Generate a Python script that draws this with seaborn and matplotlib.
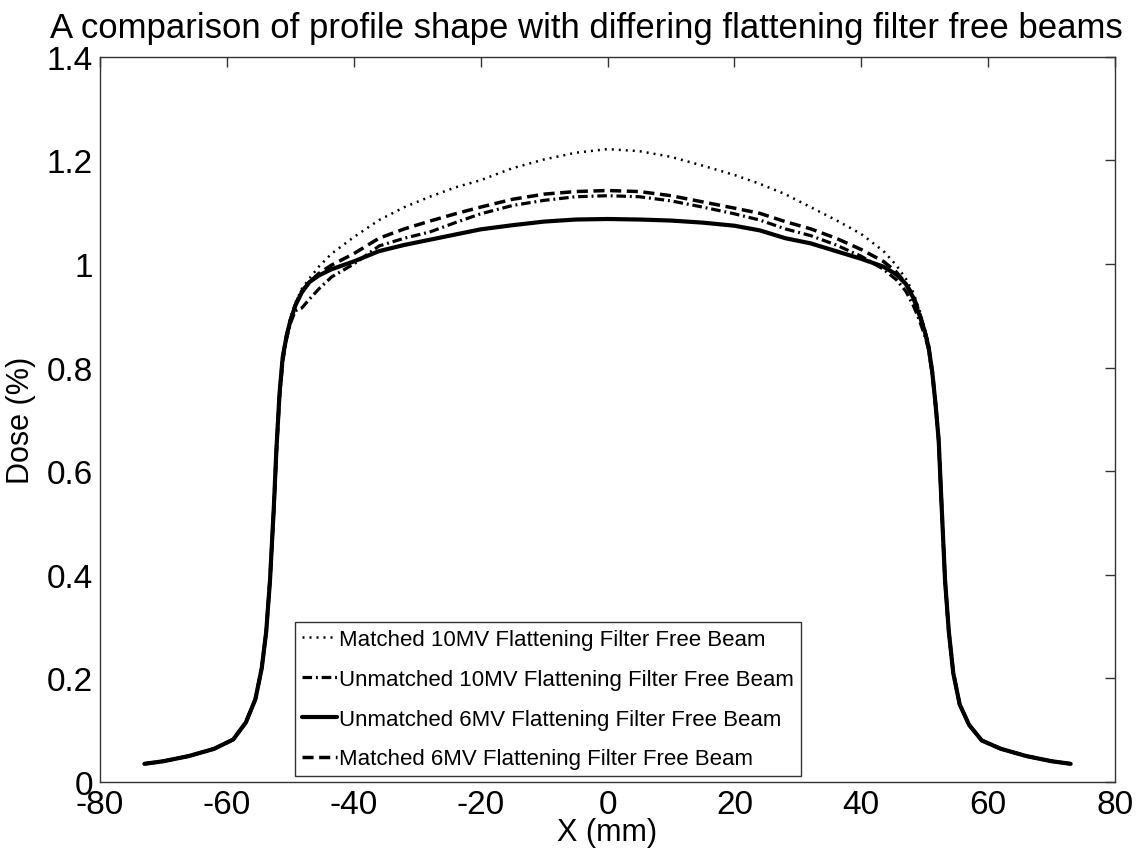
import numpy as np
import pandas as pd
import matplotlib
matplotlib.use("Agg")
import matplotlib.pyplot as plt
import seaborn as sns

# ---- data ----
x_mm = [-73, -70, -66, -62, -59, -57, -55.5, -54.5, -53.8, -53.2, -52.6, -52.2, -51.7, -51.2,
        -50.6, -50, -49.2, -48.2, -47, -45.5, -43.5, -40, -36, -32, -28, -24, -20, -15, -10,
        -5, 0, 5, 10, 15, 20, 24, 28, 32, 36, 40, 43.5, 45.5, 47, 48.2, 49.2, 50, 50.6, 51.2,
        51.7, 52.2, 52.6, 53.2, 53.8, 54.5, 55.5, 57, 59, 62, 66, 70, 73]

matched_10mv = [0.035, 0.040, 0.050, 0.064, 0.082, 0.115, 0.16, 0.22, 0.29, 0.39, 0.53, 0.64,
                0.75, 0.82, 0.865, 0.895, 0.925, 0.952, 0.972, 0.995, 1.02, 1.052, 1.085, 1.11,
                1.13, 1.148, 1.162, 1.185, 1.202, 1.215, 1.222, 1.218, 1.207, 1.19, 1.172, 1.155,
                1.135, 1.11, 1.085, 1.058, 1.025, 0.998, 0.972, 0.945, 0.91, 0.875, 0.845, 0.795,
                0.735, 0.665, 0.555, 0.39, 0.29, 0.215, 0.15, 0.11, 0.08, 0.064, 0.05, 0.040, 0.035]

unmatched_10mv = [0.035, 0.040, 0.050, 0.064, 0.082, 0.115, 0.16, 0.22, 0.29, 0.39, 0.52, 0.63,
                  0.74, 0.81, 0.855, 0.885, 0.91, 0.915, 0.932, 0.952, 0.975, 1.0, 1.035, 1.05,
                  1.062, 1.08, 1.097, 1.113, 1.123, 1.13, 1.132, 1.13, 1.122, 1.11, 1.097, 1.085,
                  1.068, 1.055, 1.037, 1.015, 0.99, 0.97, 0.948, 0.92, 0.89, 0.862, 0.835, 0.785,
                  0.725, 0.655, 0.545, 0.385, 0.285, 0.21, 0.15, 0.11, 0.08, 0.064, 0.05, 0.040, 0.035]

unmatched_6mv = [0.035, 0.040, 0.050, 0.064, 0.082, 0.115, 0.16, 0.22, 0.29, 0.39, 0.53, 0.64,
                 0.75, 0.82, 0.86, 0.89, 0.92, 0.945, 0.965, 0.978, 0.99, 1.005, 1.025, 1.037,
                 1.047, 1.057, 1.067, 1.075, 1.082, 1.086, 1.087, 1.086, 1.084, 1.08, 1.074, 1.065,
                 1.05, 1.04, 1.025, 1.01, 0.995, 0.98, 0.962, 0.935, 0.9, 0.87, 0.84, 0.79,
                 0.73, 0.66, 0.55, 0.39, 0.29, 0.21, 0.15, 0.11, 0.08, 0.064, 0.05, 0.040, 0.035]

matched_6mv = [0.035, 0.040, 0.050, 0.064, 0.082, 0.115, 0.16, 0.22, 0.29, 0.39, 0.53, 0.64,
               0.75, 0.82, 0.862, 0.892, 0.922, 0.948, 0.965, 0.982, 0.998, 1.02, 1.05, 1.068,
               1.083, 1.097, 1.11, 1.125, 1.135, 1.14, 1.142, 1.14, 1.132, 1.12, 1.108, 1.098,
               1.082, 1.068, 1.05, 1.028, 1.005, 0.985, 0.963, 0.94, 0.905, 0.872, 0.842, 0.792,
               0.732, 0.662, 0.552, 0.39, 0.29, 0.212, 0.15, 0.11, 0.08, 0.064, 0.05, 0.040, 0.035]

series_names = ["Matched 10MV Flattening Filter Free Beam",
                "Unmatched 10MV Flattening Filter Free Beam",
                "Unmatched 6MV Flattening Filter Free Beam",
                "Matched 6MV Flattening Filter Free Beam"]
series_values = [matched_10mv, unmatched_10mv, unmatched_6mv, matched_6mv]

x_ticks = [-80, -60, -40, -20, 0, 20, 40, 60, 80]
y_ticks = [0, 0.2, 0.4, 0.6, 0.8, 1, 1.2, 1.4]
y_tick_labels = ["0", "0.2", "0.4", "0.6", "0.8", "1", "1.2", "1.4"]

# ---- style ----
sns.set_theme(style="white")
plt.rcParams["font.family"] = ["Liberation Sans", "DejaVu Sans"]
plt.rcParams["text.color"] = "black"

fig = plt.figure(figsize=(11.44, 8.54), dpi=100)
ax = fig.add_axes([0.0874, 0.0832, 0.8873, 0.8490])

styles = [
    dict(linestyle=(0, (0.8, 2.0)), linewidth=1.8),
    dict(linestyle=(0, (3.0, 1.2, 0.6, 1.2)), linewidth=2.3),
    dict(linestyle="-", linewidth=3.0),
    dict(linestyle=(0, (3.2, 1.6)), linewidth=2.5),
]

for name, vals, st in zip(series_names, series_values, styles):
    df = pd.DataFrame({"x": x_mm, "y": vals})
    sns.lineplot(data=df, x="x", y="y", ax=ax, color="black", label=name,
                 estimator=None, sort=False, **st)

ax.set_xlim(-80, 80)
ax.set_ylim(0, 1.4)
ax.set_xticks(x_ticks)
ax.set_xticklabels([str(t) for t in x_ticks])
ax.set_yticks(y_ticks)
ax.set_yticklabels(y_tick_labels)

ax.tick_params(axis="both", direction="in", length=7, width=1, color="#333333",
               labelsize=24, top=True, right=True, pad=5, labelcolor="black")
for sp in ax.spines.values():
    sp.set_visible(True)
    sp.set_color("#333333")
    sp.set_linewidth(1.0)

ax.set_xlabel("X (mm)", fontsize=22, labelpad=-2, color="black")
ax.set_ylabel("Dose (%)", fontsize=22, labelpad=8, color="black")
fig.text(0.513, 0.967,
         "A comparison of profile shape with differing flattening filter free beams",
         fontsize=25, ha="center", va="center", color="black")

leg = ax.legend(loc="lower left", bbox_to_anchor=(0.192, 0.008), fontsize=16,
                frameon=True, fancybox=False, edgecolor="#333333", framealpha=1,
                handlelength=1.6, handletextpad=0.1, borderpad=0.3, labelspacing=0.85,
                borderaxespad=0)
leg.get_frame().set_linewidth(1.0)
for t in leg.get_texts():
    t.set_color("black")

ax.grid(False)
fig.savefig("out.png", dpi=100)
